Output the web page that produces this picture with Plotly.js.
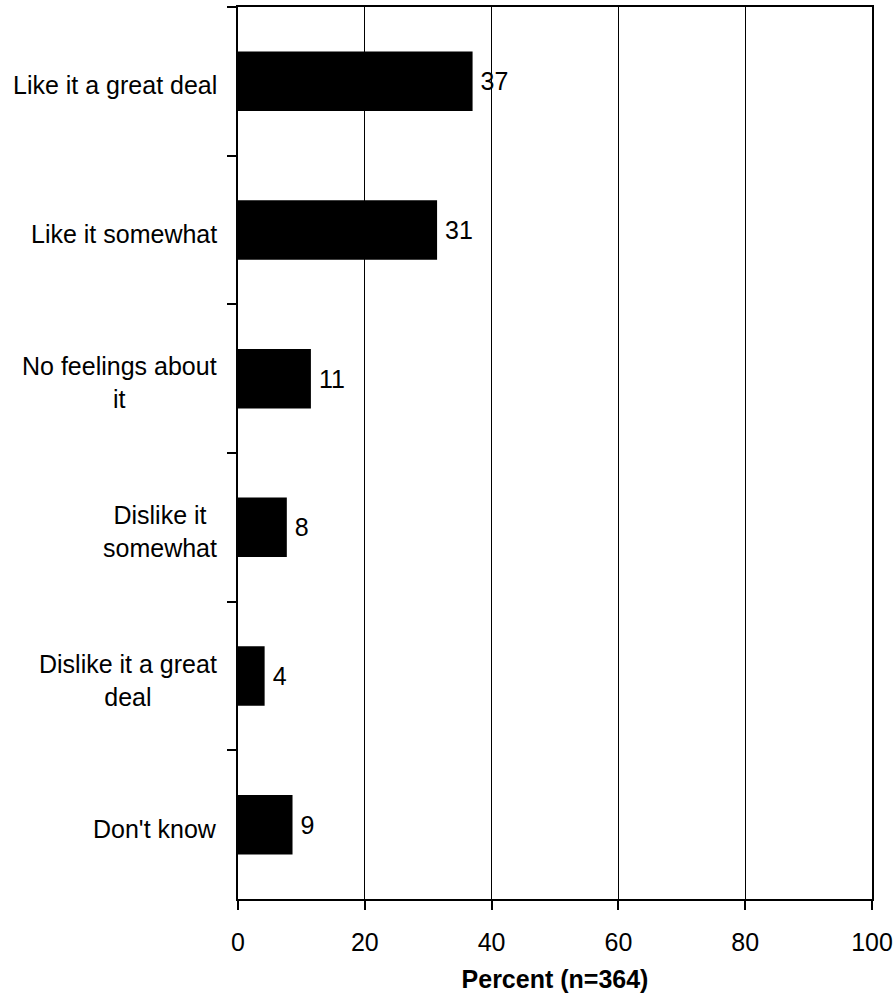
<!DOCTYPE html>
<html>
<head>
<meta charset="utf-8">
<script src="https://cdn.plot.ly/plotly-3.0.1.min.js"></script>
<style>
  html, body { margin: 0; padding: 0; background: #ffffff; }
  #chart { width: 895px; height: 996px; }
</style>
</head>
<body>
<div id="chart"></div>
<script>
const categories = [
  "Like it a great deal",
  "Like it somewhat",
  "No feelings about<br>it",
  "Dislike it<br>somewhat",
  "Dislike it a great<br>deal",
  "Don't know"
];
const values = [37.0, 31.4, 11.5, 7.7, 4.2, 8.6];
const valueLabels = ["37", "31", "11", "8", "4", "9"];
const xTickValues = [0, 20, 40, 60, 80, 100];
const xTickLabels = ["0", "20", "40", "60", "80", "100"];
const xTitle = "Percent (n=364)";

const FONT = "Arial, 'Liberation Sans', sans-serif";

const trace = {
  type: "bar",
  orientation: "h",
  y: categories,
  x: values,
  text: valueLabels,
  texttemplate: "\u2009%{text}",
  textposition: "outside",
  cliponaxis: false,
  textfont: { family: FONT, size: 25, color: "#000000" },
  marker: { color: "#000000", line: { width: 0 } },
  width: 0.4,
  hoverinfo: "none"
};

const annotations = categories.map(function (c) {
  return {
    xref: "paper", yref: "y",
    x: 0, y: c,
    xshift: -19,
    yshift: -4,
    xanchor: "right", yanchor: "middle",
    align: "center",
    text: c,
    showarrow: false,
    font: { family: FONT, size: 25, color: "#000000" }
  };
});

const layout = {
  width: 895,
  height: 996,
  margin: { l: 238, r: 23, t: 7, b: 97, pad: 0 },
  paper_bgcolor: "#ffffff",
  plot_bgcolor: "#ffffff",
  showlegend: false,
  font: { family: FONT, size: 25, color: "#000000" },
  xaxis: {
    range: [0, 100],
    tickvals: xTickValues,
    ticktext: xTickLabels,
    showgrid: true,
    gridcolor: "#000000",
    gridwidth: 1,
    zeroline: false,
    showline: true,
    linecolor: "#000000",
    linewidth: 2,
    mirror: true,
    ticks: "outside",
    ticklen: 9,
    tickwidth: 2,
    tickcolor: "#000000",
    ticklabelstandoff: 11,
    tickfont: { family: FONT, size: 25, color: "#000000" },
    title: {
      text: "<b>" + xTitle + "</b>",
      font: { family: FONT, size: 25, color: "#000000" },
      standoff: 15
    },
    fixedrange: true
  },
  yaxis: {
    type: "category",
    categoryorder: "array",
    categoryarray: categories,
    autorange: "reversed",
    showticklabels: false,
    showgrid: false,
    zeroline: false,
    showline: true,
    linecolor: "#000000",
    linewidth: 2,
    mirror: true,
    ticks: "outside",
    tickson: "boundaries",
    ticklen: 9,
    tickwidth: 2,
    tickcolor: "#000000",
    fixedrange: true
  },
  annotations: annotations
};

Plotly.newPlot("chart", [trace], layout, { staticPlot: true, displayModeBar: false });
</script>
</body>
</html>
